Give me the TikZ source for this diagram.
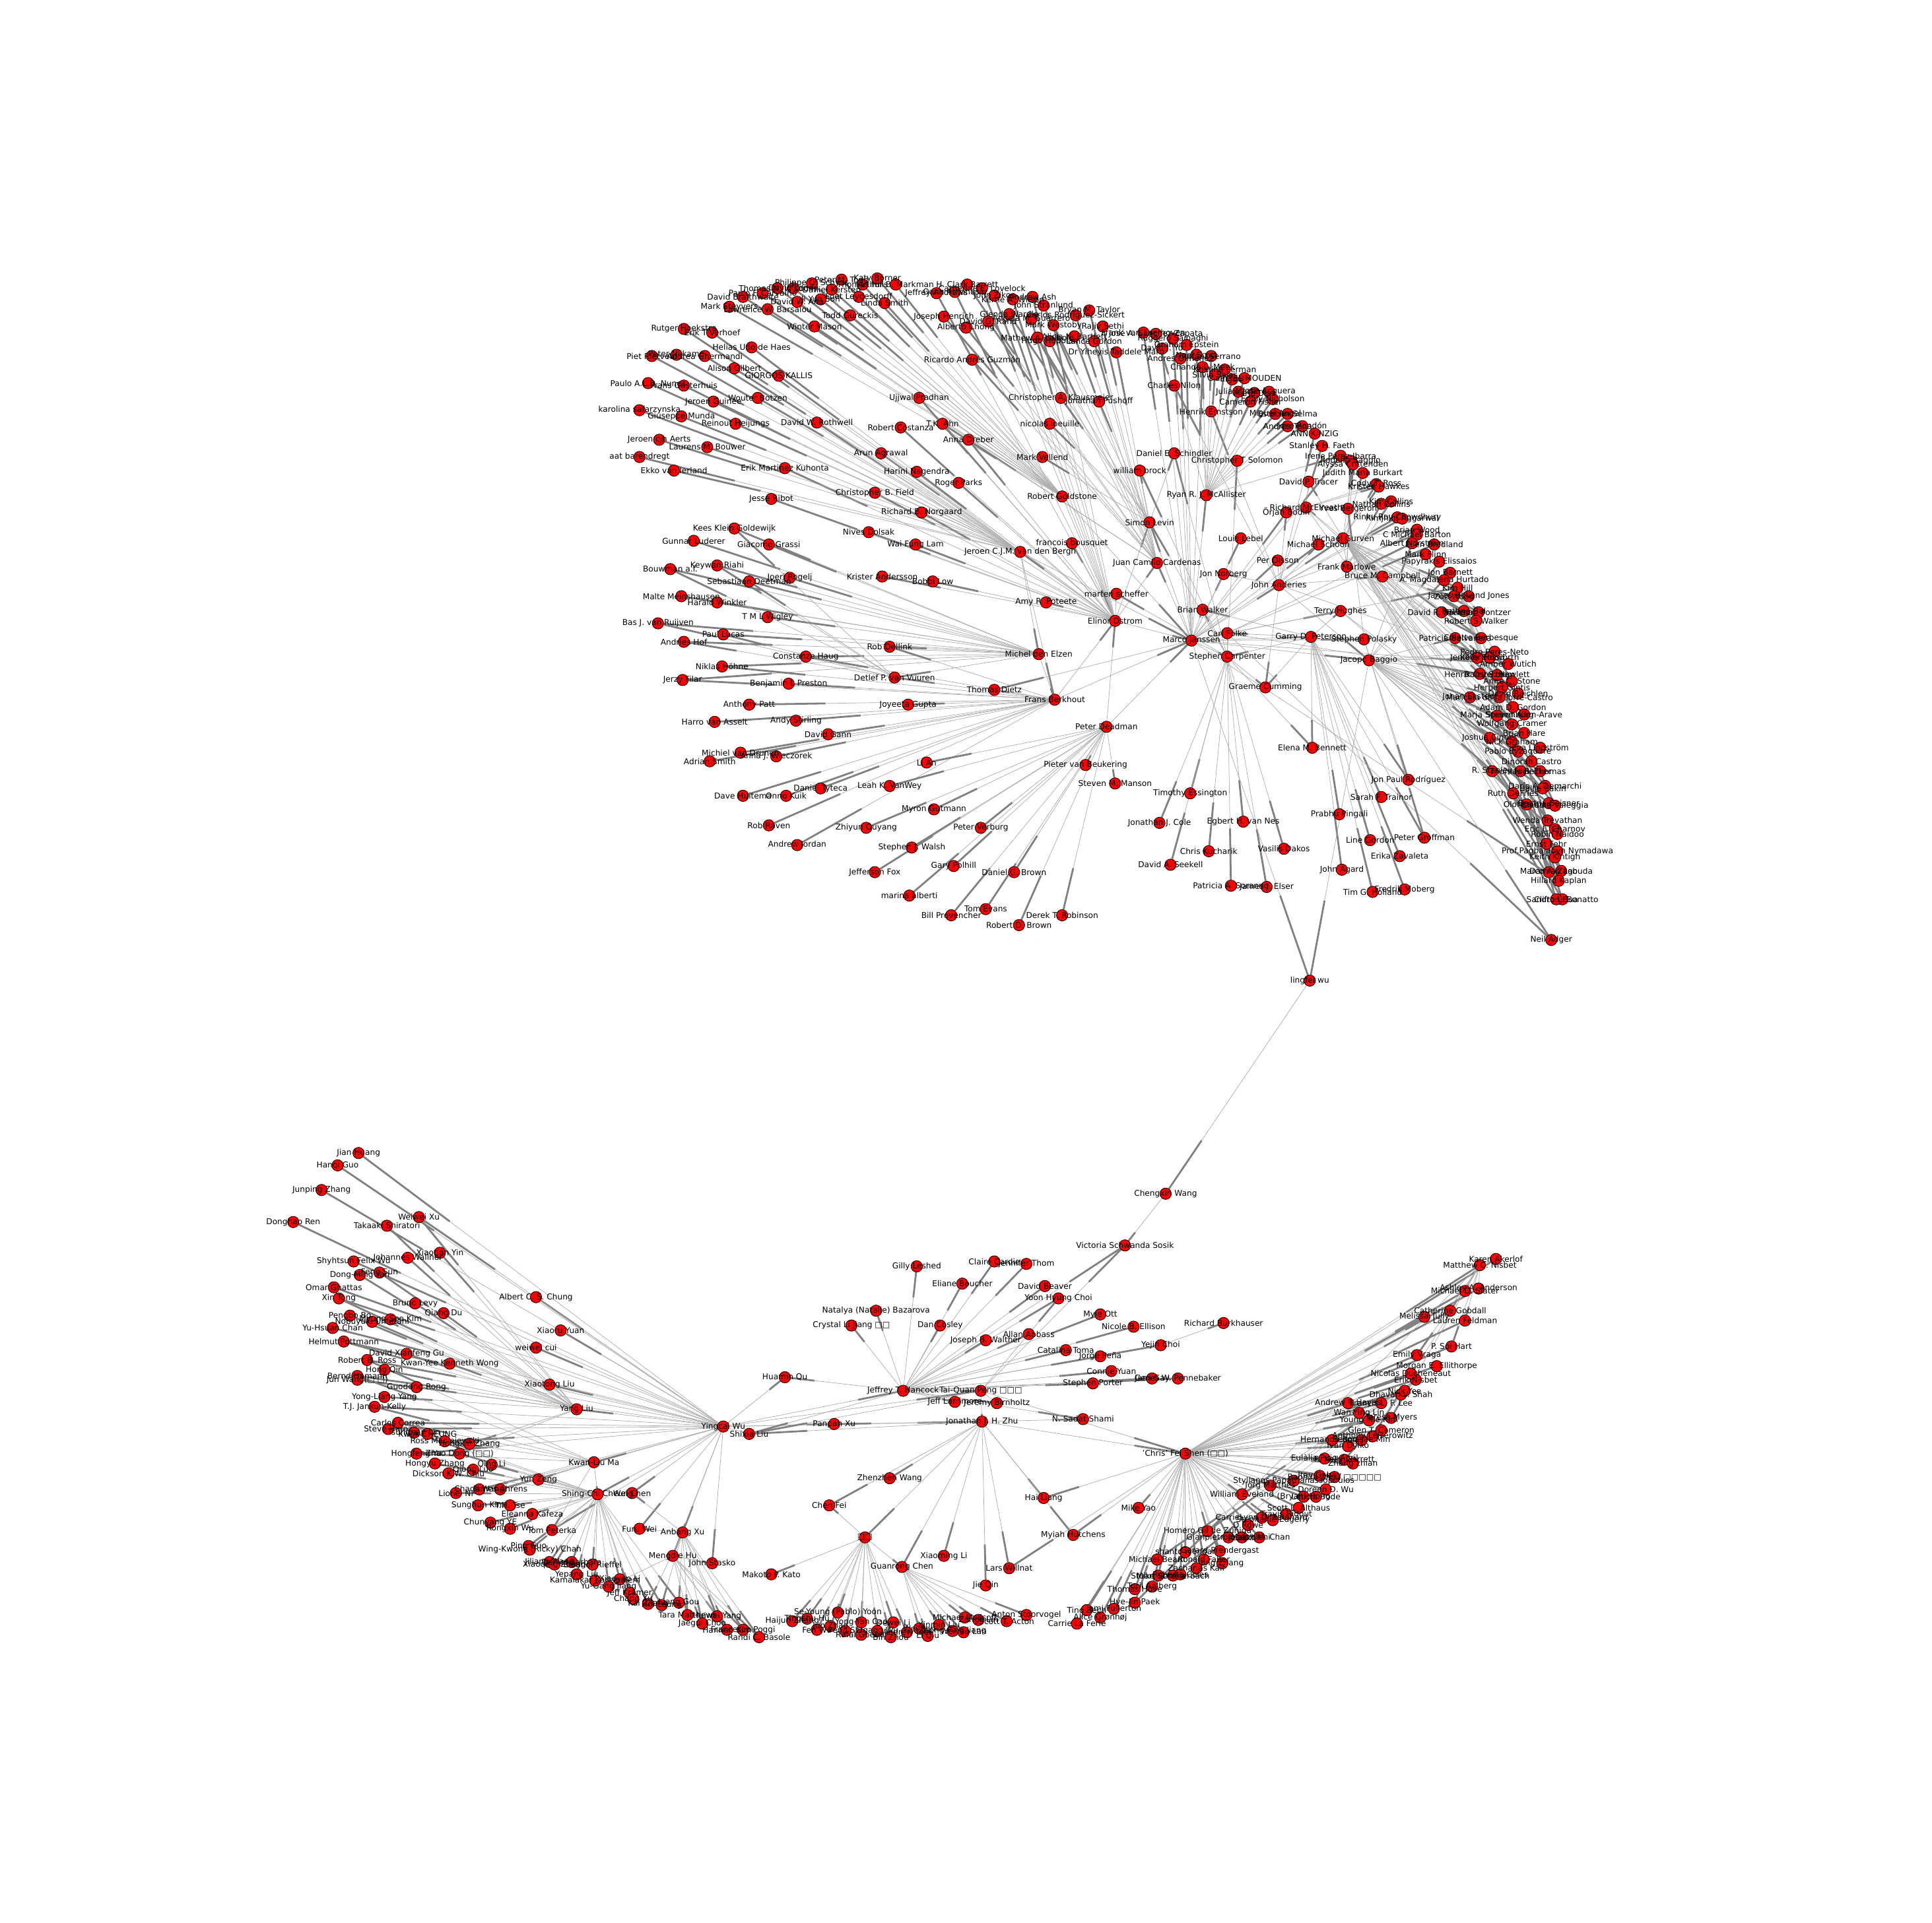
\documentclass[tikz,border=0pt]{standalone}
\usepackage{fontspec}
\setmainfont{DejaVu Sans}
\usetikzlibrary{calc}
\pgfdeclarelayer{background}
\pgfsetlayers{background,main}
\newcommand{\lnk}[2]{\draw[lnk] (#1) -- (#2); \draw[lnkhd] ($(#1)!0.75!(#2)$) -- (#2);}

\newcommand{\upperlist}{
  wisdom/631/234/Thomas N. Wisdom, carvalho/619/238/Paulo F. Carvalho, braithwaite/603/241/David Braithwaite,
  schyns/659/230/Philippe G. Schyns, landy/644/234/David Landy, todd/683/227/Peter M. Todd,
  hills/700/231/Thomas Hills, kersten/675/235/Daniel Kersten, son/666/243/Ji Yun Son,
  leydesdorff/697/241/Loet Leydesdorff, aha/647/245/David W. Aha, barsalou/623/251/Lawrence W. Barsalou,
  steyvers/592/249/Mark Steyvers, gureckis/690/256/Todd Gureckis, mason/661/265/Winter Mason,
  smithl/718/246/Linda Smith, borner/712/226/Katy Börner, markman/727/231/Arthur B. Markman,
  barrett/785/231/H. Clark Barrett, jeffrey/760/238/Jeffrey Andrews, athan/775/237/Oana Athanasiu,
  lovelock/797/234/Catherine E. Lovelock, zik/807/240/John Zikos, wilson/822/243/Kerrie A. Wilson,
  ash/838/241/Andrew Ash, stranlund/847/248/John Stranlund, henrich/766/257/Joseph Henrich,
  wardle/819/255/Glenda Wardle, randd/802/261/David G. Rand, guerrero/837/259/Angela M. Guerrero,
  sickert/873/256/Carlos Rodriguez-Sickert, taylor/884/252/Bryan M. Taylor, westoby/855/264/Mark Westoby,
  chong/784/266/Alberto Chong, sethi/895/265/Rajiv Sethi, leibold/842/274/Mathew A. Leibold,
  hugo/852/277/Hugo Hopolah, barraclough/872/273/Alicia N. Bartlett, gordonx/888/277/Lance Gordon,
  maru/906/286/Dr Yiheyis Taddele Maru, guzman/789/292/Ricardo Andrés Guzmán,
  hoekstra/555/267/Rutger Hoekstra, verhoef/578/270/Erik T Verhoef, udodehaes/610/282/Helias Udo de Haes,
  rietveld/529/289/Piet Rietveld, nijkamp/549/288/Peter Nijkamp, ghermandi/572/289/Andrea Ghermandi,
  gilbert/596/299/Alison Gilbert, kallis/632/305/GIORGOS KALLIS, nunes/526/311/Paulo A.L.D. Nunes,
  oosterhuis/555/313/Frans Oosterhuis, guinee/579/326/Jeroen Guinée, botzen/615/323/Wouter Botzen,
  safarzynska/519/333/karolina safarzynska, munda/553/338/Giuseppe Munda, heijungs/597/344/Reinout Heijungs,
  rothwell/663/343/David W. Rothwell, aerts/535/357/Jeroen cjh Aerts, bouwer/574/363/Laurens M. Bouwer,
  barendregt/519/371/aat barendregt, ierland/547/382/Ekko van Ierland, kuhonta/637/380/Erik Martinez Kuhonta,
  ribot/626/405/Jesse Ribot,
  pradhan/746/323/Ujjwal Pradhan, costanza/731/347/Robert Costanza, ahn/765/344/T.K. Ahn,
  dreber/786/357/Anna Dreber, agrawal/715/368/Arun Agrawal, nagendra/744/383/Harini Nagendra,
  parks/778/392/Roger Parks, field/710/400/Christopher B. Field, norgaard/748/416/Richard B. Norgaard,
  dolsak/705/432/Nives Dolsak, lam/743/442/Wai Fung Lam, bousquet/870/441/francois bousquet,
  bergh/828/448/Jeroen C.J.M. van den Bergh, andersson/716/468/Krister Andersson, low/757/472/Bobbi Low,
  poteete/849/489/Amy R. Poteete, scheffer/906/482/marten scheffer, ostrom/905/504/Elinor Ostrom,
  klausmeier/861/323/Christopher A. Klausmeier, bushoff/892/326/Jonathan Pushoff,
  loeuille/852/344/nicolas loeuille, vellend/846/371/Mark Vellend, goldstone/862/403/Robert Goldstone,
  goldewijk/596/429/Kees Klein Goldewijk, luderer/563/439/Gunnar Luderer, grassi/624/442/Giacomo Grassi,
  bouwman/544/462/Bouwman a.f., riahi/582/459/Keywan Riahi, rogelj/641/469/Joeri Rogelj,
  deetman/608/472/Sebastiaan Deetman, meinshausen/553/484/Malte Meinshausen, winkler/582/489/Harald Winkler,
  wigley/623/501/T M L Wigley, ruijven/534/506/Bas J. van Ruijven, lucas/587/515/Paul Lucas,
  hof/555/521/Andries Hof, dellink/722/525/Rob Dellink, elzen/843/531/Michel den Elzen,
  haug/654/533/Constanze Haug, hohne/586/541/Niklas Höhne, vuuren/726/550/Detlef P. van Vuuren,
  filar/554/552/Jerzy Filar, preston/640/555/Benjamin L Preston, dietz/807/560/Thomas Dietz,
  berkhout/856/568/Frans Berkhout, patt/608/572/Anthony Patt, gupta/737/572/Joyeeta Gupta,
  asselt/580/586/Harro van Asselt, stirling/646/585/Andy Stirling, deadman/898/590/Peter Deadman,
  gann/672/596/David Gann, drunen/601/611/Michiel van Drunen, wieczorek/630/614/Anna J. Wieczorek,
  smitha/576/618/Adrian Smith, lian/752/619/Li An, beukering/881/621/Pieter van Beukering,
  manson/905/636/Steven M. Manson, huitema/603/646/Dave Huitema, kuik/638/646/Onno Kuik,
  tyteca/666/640/Daniel Tyteca, vanwey/722/638/Leah K. VanWey, gutmann/758/657/Myron Gutmann,
  raven/624/670/Rob Raven, ouyang/703/672/Zhiyun Ouyang, verburg/796/672/Peter Verburg,
  jordan/647/686/Andrew Jordan, walsh/740/688/Stephen J. Walsh, polhill/774/703/Gary Polhill,
  fox/710/708/Jefferson Fox, browndg/823/708/Daniel G. Brown, alberti/738/727/marina alberti,
  evans/800/738/Tom Evans, provencher/772/743/Bill Provencher, robinson/862/743/Derek T. Robinson,
  brownrd/827/751/Robert D. Brown,
  cardenas/939/457/Juan Camilo Cardenas, levin/933/424/Simon Levin, lebel/1007/437/Louis Lebel,
  schoon/1070/442/Michael Schoon, gurven/1090/437/Michael Gurven, olsson/1037/455/Per Olsson,
  marlowe/1093/460/Frank Marlowe, campbell/1122/468/Bruce M. Campbell, norberg/993/466/Jon Norberg,
  anderies/1038/475/John Anderies, walker/976/495/Brian Walker, hughes/1088/496/Terry Hughes,
  folke/996/514/Carl Folke, janssen/967/520/Marco Janssen, peterson/1064/517/Garry D. Peterson,
  polasky/1107/519/Stephen Polasky, carpenter/996/533/Stephen Carpenter, baggio/1111/536/Jacopo Baggio,
  cumming/1027/558/Graeme Cumming, bennett/1065/607/Elena M. Bennett,
  schindler/953/368/Daniel E. Schindler, solomon/1004/374/Christopher T Solomon, brock/925/382/william brock,
  mcallister/979/402/Ryan R. J. McAllister, bodin/1044/416/Örjan Bodin, mcelreath/1060/412/Richard McElreath,
  bergeron/1094/413/Yves Bergeron, tracer/1062/391/David P. Tracer,
  essington/966/644/Timothy Essington, cole/941/668/Jonathan J. Cole, vannes/1009/667/Egbert H. van Nes,
  kucharik/981/691/Chris Kucharik, dakos/1042/689/Vasilis Dakos, seekell/950/702/David A. Seekell,
  soranno/999/719/Patricia A. Soranno, elser/1028/720/James J. Elser,
  pingali/1087/661/Prabhu Pingali, agard/1089/706/John Agard, gordonl/1112/682/Line Gordon,
  groffman/1156/680/Peter Groffman, trainor/1121/647/Sarah F. Trainor, rodriguez/1143/633/Jon Paul Rodríguez,
  zavaleta/1136/695/Erika Zavaleta, holland/1114/724/Tim G. Holland, moberg/1140/722/Fredrik Moberg,
  laerhoven/928/270/Frank van Laerhoven, zapata/938/271/José A. Sánchez Zapata, sainaghi/952/275/Ruggero Sainaghi,
  yu/943/283/David J. Yu, epstein/963/280/Graham Epstein, gimenez/958/291/Andres Gimenez,
  scott/971/288/Noel Scott, serrano/983/289/Rafael Serrano, meek/976/298/Chanda L. Meek,
  lerman/994/300/Kristina Lerman, silvia/986/304/Silvia Salas, joel/1000/308/El Joel,
  mouden/1010/307/Claire EL MOUDEN, nilon/953/313/Charles Nilon, julia/1005/318/Julia Martin,
  diaz/1018/319/Mario Díaz, anguera/1030/318/Jose Anguera, cameronx/1015/326/Cameron Fisher,
  nicholson/1033/324/Emily Nicholson, ernstson/983/334/Henrik Ernstson, miguel/1035/336/Miguel Angel,
  selma/1045/336/Esteban Selma, andres/1045/346/Andrés Tena, rondon/1057/346/Jose Rondón,
  kinzig/1067/352/ANN KINZIG, faeth/1073/362/Stanley H. Faeth, ibarra/1088/370/Irene Pérez-Ibarra,
  rodolfo/1096/374/Rodolfo Baggio, crittenden/1098/377/Alyssa Crittenden, burkart/1106/384/Judith Maria Burkart,
  ross/1117/393/Cody T. Ross, hawkes/1119/395/Kristen Hawkes, collins/1121/409/Nathan Collins,
  kimc/1129/407/Kim Collins, chowdhury/1134/420/Rinku Roy Chowdhury, aggarwal/1138/421/Rimjhim Aggarwal,
  wood/1150/430/Brian Wood, barton/1150/434/C Michael Barton, norstrom/1146/441/Albert Norström,
  bredland/1164/442/Ellen Bredland, flinn/1157/450/Mark Flinn, elissaios/1168/456/Papyrakis Elissaios,
  barnett/1177/465/Jon Barnett, hurtado/1172/471/A. Magdalena Hurtado, hill/1183/477/Kim Hill,
  woodz/1180/484/Zoë Wood, jones/1192/484/James Holland Jones, davidr/1170/497/David R. Samson,
  bel/1188/496/Bettina Bel, pontzer/1200/497/Herman Pontzer, walkerr/1198/504/Robert S Walker,
  patricia/1181/518/Patricia Balvanera, berbesque/1202/518/Colette Berbesque, peresneto/1213/529/Pedro Peres-Neto,
  jennifer/1199/534/Jennifer Hood, bosworth/1209/534/Kelly Bosworth, wutich/1224/539/Amber Wutich,
  osterblom/1201/547/Henrik Österblom, hewlett/1215/548/Barry S. Hewlett, stone/1227/553/Anne C. Stone,
  gintis/1219/558/Herbert Gintis, raichlen/1232/563/David Raichlen, johan/1193/566/Johan Ekstedt,
  torrecastro/1217/566/Maricela de la Torre-Castro, gordona/1228/574/Adam D. Gordon,
  spierenburg/1215/581/Marja Spierenburg, allenarave/1237/580/Steven Allen-Arave, cramer/1227/588/Wolfgang Cramer,
  hare/1237/595/Brian Hare, cinner/1209/599/Joshua Cinner, graham/1227/602/Nick Graham,
  lindstrom/1250/607/Eva Lindström, eyzaguirre/1232/610/Pablo Eyzaguirre, castro/1243/618/Dinorah Castro,
  stanley/1211/626/R. Stanley, thomas/1234/626/Thomas Becker, thomasx/1250/626/Nick Thomas,
  demarchi/1254/638/Darío A. Demarchi, eakin/1252/640/Hallie Eakin, defries/1228/644/Ruth DeFries,
  olof/1239/653/Olof Leimar, beisner/1257/652/Beatrix Beisner, valeggia/1262/654/Claudia Valeggia,
  trevathan/1256/666/Wenda Trevathan, charnov/1262/673/Eric L. Charnov, naidoo/1264/677/Robin Naidoo,
  fehr/1255/685/Ernst Fehr, nymadawa/1264/691/Prof.Pagbajabyn Nymadawa, kintigh/1262/696/Keith Kintigh,
  marco/1257/708/Marco A. Zago, labuda/1267/707/Damian Labuda, kaplan/1265/715/Hillard Kaplan,
  bonatto/1268/730/Sandro L. Bonatto, clifton/1263/730/Clifton Bua, adger/1259/763/Neil Adger,
  lingfei/1063/796/lingfei wu, chengxin/946/969/Chengxin Wang}

\newcommand{\lowerlist}{
  huang/291/936/Jian Huang, guoh/274/946/Hanqi Guo, zhangjp/261/966/Junping Zhang, ren/238/992/Donghao Ren,
  xuww/340/988/Weiwei Xu, shiratori/314/995/Takaaki Shiratori, yinx/357/1017/Xiaotian Yin,
  wallner/331/1021/Johannes Wallner, wusf/287/1024/Shyhtsun Felix Wu, sunf/308/1033/Feng Sun,
  yandm/292/1035/Dong-Ming Yan, ghattas/271/1045/Omar Ghattas, tongx/275/1054/Xin Tong,
  chung/435/1053/Albert C. S. Chung, levy/337/1058/Bruno Levy, duq/360/1066/Qiang Du,
  bop/284/1068/Pengbo Bo, kimms/317/1071/Myung-Soo Kim, umetani/302/1073/Nobuyuki Umetani,
  chanyh/270/1078/Yu-Hsuan Chan, yuanx/455/1080/Xiaoru Yuan, pottmann/279/1089/Helmut Pottmann,
  cui/435/1094/weiwei cui, gux/330/1099/David Xianfeng Gu, rossrb/298/1104/Robert B. Ross,
  wongk/365/1107/Kwan-Yee Kenneth Wong, qinh/312/1112/Hong Qin, hamann/290/1117/Bernd Hamann,
  wangj/290/1120/Jun Wang(□ □), rong/338/1126/Guodong Rong, liuxt/446/1124/Xiaotong Liu,
  yangyl/312/1134/Yong-Liang Yang, jankun/304/1142/T.J. Jankun-Kelly, liuy/468/1144/Yang Liu,
  correa/323/1155/Carlos Correa, haroz/315/1160/Steve Haroz, tsung/336/1163/Tsungnan Lin,
  cheungk/347/1164/Kwok CHEUNG, wuyc/587/1158/Yingcai Wu, liusx/608/1164/Shixia Liu,
  maciejewski/361/1170/Ross Maciejewski, zhanghx/381/1172/Hongxin Zhang, yuhf/338/1180/Hongfeng Yu,
  dongz/373/1180/Zhao Dong (□□), makl/482/1187/Kwan-Liu Ma, zhanghy/353/1188/Hongyu Zhang,
  liq/399/1189/Qing Li, luoq/384/1193/Qiong Luo, chiu/364/1196/Dickson K.W. Chiu,
  zengy/437/1201/Yun Zeng, ni/370/1212/Lionel Ni, wangcl/389/1209/Chaoli Wang, ahrens/406/1209/James Ahrens,
  cheungsc/485/1213/Shing-Chi Cheung, chenw/513/1212/Wei Chen, kimsh/388/1222/Sunghun Kim,
  tse/414/1222/T.H. Tse, kafeza/432/1229/Eleanna Kafeza, ye/398/1236/Chunyang YE,
  wurx/414/1241/Rongxin Wu, peterka/448/1242/Tom Peterka, weif/519/1241/Furu Wei, xua/554/1244/Anbang Xu,
  guop/429/1255/Ping Guo, chanwk/430/1258/Wing-Kwong (Ricky) Chan, hum/546/1263/Mengdie Hu,
  stasko/578/1269/John Stasko, jiliang/446/1268/Jiliang Wang, xiaoqing/450/1270/Xiaoqing Zhong,
  barbara/464/1268/Daniel Barbara, rieffel/481/1270/Eleanor Rieffel, liuyp/468/1278/Yepang Liu,
  karlapalem/483/1283/Kamalakar Karlapalem, lixy/503/1282/Xiaoyao Li, jiangyg/494/1288/Yu-Gang Jiang,
  kramer/511/1293/Jeff Kramer, xuc/514/1298/Chang Xu, kai/526/1302/Kai Zhang, hoi/537/1303/Hoi Leung,
  gou/551/1301/Liang Gou, matthews/558/1311/Tara Matthews, choo/570/1318/Jaegul Choo,
  yangh/582/1312/Huiwei Yang, hannah/590/1323/Hannah Kim, poggi/603/1323/Francesco Poggi,
  basole/616/1329/Randi C. Basole, kato/626/1278/Makoto P. Kato,
  sosik/913/1011/Victoria Schwanda Sosik, cardie/807/1024/Claire Cardie, thom/833/1026/Jennifer Thom,
  leshed/744/1028/Gilly Leshed, boucher/781/1042/Eliane Boucher, beaver/848/1044/David Beaver,
  choiyh/859/1054/Yoon Hyung Choi, bazarova/711/1064/Natalya (Natalie) Bazarova, ott/893/1067/Myle Ott,
  jiang/691/1076/Crystal Li Jiang □□, cosley/763/1076/Dan Cosley, burkhauser/993/1074/Richard Burkhauser,
  ellison/920/1077/Nicole B. Ellison, abbass/835/1083/Allan Abbass, walther/800/1088/Joseph B. Walther,
  choiyj/942/1092/Yejin Choi, toma/865/1096/Catalina Toma, pena/893/1101/Jorge Peña,
  yuanc/902/1113/Connie Yuan, quh/637/1118/Huamin Qu, gay/935/1119/Geri Gay,
  pennebaker/956/1119/James W. Pennebaker, porter/887/1123/Stephen Porter, hancock/733/1129/Jeffrey T. Hancock,
  peng/796/1129/Tai-Quan Peng □□□, larrimore/775/1138/Jeff Larrimore, birnholtz/809/1139/Jeremy Birnholtz,
  shami/879/1152/N. Sadat Shami, xup/677/1156/Panpan Xu, zhu/797/1154/Jonathan J. H. Zhu,
  shen/962/1180/'Chris' Fei Shen (□□), wangzz/722/1200/Zhenzhen Wang, lianghai/847/1216/Hai Liang,
  yao/924/1224/Mike Yao, chenfei/673/1222/Chen Fei, boxes/702/1248/□□, hutchens/871/1246/Myiah Hutchens,
  lixm/766/1263/Xiaoming Li, chengr/732/1272/Guanrong Chen, willnat/819/1273/Lars Willnat, qinj/800/1287/Jie Qin,
  yoon/680/1309/Se-Young (Pablo) Yoon, haijun/643/1316/Haijun Zhang, hut/655/1314/Tingshu Hu,
  jun/674/1320/Jun Zhao, wuf/663/1323/Fen Wu, cao/699/1317/Yong-Yan Cao, dewei/725/1317/Dewei Li,
  goebel/699/1327/Rafal Goebel, x685/686/1324/Peng Shi, x712/712/1324/Ligang Wu, zhoub/723/1329/Bin Zhou,
  andrew/736/1325/Andrew Teel, x746/746/1322/Wei Ren, qiu/753/1328/Li Qiu, liuxm/762/1319/Xinmin Liu,
  x773/773/1324/Zhong-Ping Jiang, lan/782/1325/Weiyao Lan, michael/783/1313/Michael Malisoff,
  zongli/794/1315/Zongli Lin, acton/817/1316/Scott T. Acton, stoorvogel/833/1311/Anton Stoorvogel,
  bech/882/1307/Tino Bech, fullerton/904/1306/Jami Fullerton, gronhoj/893/1313/Alice Grønhøj,
  laferle/874/1318/Carrie La Ferle, paek/921/1301/Hye-Jin Paek, hove/921/1290/Thomas Hove,
  aalberg/935/1288/Toril Aalberg, soroka/940/1279/Stuart Soroka, schmierbach/952/1279/Mike Schmierbach,
  x958/958/1278/Roberta Coles, zacharias/971/1273/Zacharias Kalf, faber/977/1266/Ronald Faber,
  zhangjing/992/1269/Jing Zhang, beam/939/1266/Michael Beam, iyengar/962/1260/shanto iyengar,
  prendergast/990/1259/Gerard Prendergast, zuniga/980/1243/Homero Gil de Zúñiga,
  mazzoleni/997/1248/Gianpietro Mazzoleni, x1008/1008/1248/Kazakh, chanjm/1022/1248/Joseph M. Chan,
  rowe/1013/1238/D Rowe, reinhard/1024/1232/CarrieLynn D. Reinhard, edgerly/1033/1234/Stephanie Edgerly,
  ridout/1044/1229/Travis Ridout, althaus/1054/1224/Scott L. Althaus, eveland/1008/1213/William Eveland,
  matthes/1031/1206/Jörg Matthes, bryan/1058/1215/(Bryan) Hong, bode/1068/1215/Leticia Bode,
  wud/1076/1209/Doreen D. Wu, papathan/1050/1202/Stylianos Papathanassopoulos, gabay/1071/1198/Itay Gabay,
  zhoubh/1083/1199/Baohua Zhou □□□□□, puig/1075/1184/Eulàlia Puig-Abril, garrett/1091/1185/R. Kelly Garrett,
  zhian/1098/1188/Zhang zhian, rojas/1081/1169/Hernando Rojas, dylko/1094/1174/Ivan Dylko,
  minsj/1105/1169/Seong-Jae Min, leiserowitz/1114/1166/Anthony Leiserowitz, cameron/1121/1161/Glen T. Cameron,
  myers/1129/1151/Teresa Myers, kimym/1111/1153/Young Mie Kim, linwy/1103/1147/Wan-Ying Lin,
  hayes/1094/1139/Andrew F. Hayes, leef/1121/1139/Francis L. F. Lee, shah/1137/1132/Dhavan V. Shah,
  yee/1140/1129/Nick Yee, nisbete/1149/1120/Erik Nisbet, ducheneaut/1145/1115/Nicolas Ducheneaut,
  ellithorpe/1166/1109/Morgan E. Ellithorpe, vraga/1150/1100/Emily Vraga, hart/1178/1093/P. Sol Hart,
  tully/1156/1069/Melissa Tully, feldman/1189/1072/Lauren Feldman, goodall/1177/1064/Catherine Goodall,
  slater/1189/1048/Michael D. Slater, anderson/1200/1046/Ashley A. Anderson,
  nisbetm/1201/1027/Matthew C. Nisbet, akerlof/1214/1022/Karen Akerlof}

\begin{document}
\begin{tikzpicture}[x=0.2mm, y=-0.2mm,
  pn/.style={circle, draw=black, line width=0.25pt, fill=red, minimum size=1.85mm, inner sep=0pt},
  lab/.style={font=\fontsize{3.7}{4.4}\selectfont, inner sep=0pt},
  lnk/.style={draw=black!32, line width=0.22pt},
  lnkhd/.style={draw=black!50, line width=0.85pt}
]
\useasboundingbox (0,0) rectangle (1568,1561);

\foreach \n/\x/\y/\lab in \upperlist {\node[pn] (\n) at (\x,\y) {};}
\foreach \n/\x/\y/\lab in \lowerlist {\node[pn] (\n) at (\x,\y) {};}
\foreach \n/\x/\y/\lab in \upperlist {\node[lab] (\n-l) at (\x,\y) {\lab};}
\foreach \n/\x/\y/\lab in \lowerlist {\node[lab] (\n-l) at (\x,\y) {\lab};}

\begin{pgfonlayer}{background}
\fill[white] (0,0) rectangle (1568,1561);
\foreach \t in {wisdom,carvalho,braithwaite,schyns,landy,todd,hills,kersten,son,leydesdorff,aha,barsalou,steyvers,gureckis,mason,smithl,borner,markman,janssen,ostrom} {\lnk{goldstone}{\t}}
\foreach \t in {pradhan,costanza,ahn,dreber,agrawal,nagendra,parks,field,norgaard,dolsak,lam,andersson,low,poteete,ribot,rothwell,kuhonta,bousquet,scheffer,cardenas,janssen,levin,bergh,lovelock,wilson,ash,wardle,westoby,guerrero,jeffrey,athan,zik} {\lnk{ostrom}{\t}}
\foreach \t in {henrich,chong,guzman,barrett,randd,sickert,taylor,sethi,leibold,maru,stranlund,hugo,barraclough,gordonx,dreber,ahn} {\lnk{cardenas}{\t}}
\foreach \t in {klausmeier,bushoff,loeuille,vellend,brock,schindler,wardle,westoby,leibold} {\lnk{levin}{\t}}
\foreach \t in {hoekstra,verhoef,udodehaes,rietveld,nijkamp,ghermandi,gilbert,kallis,nunes,oosterhuis,guinee,botzen,safarzynska,munda,heijungs,aerts,bouwer,barendregt,ierland,berkhout,elzen,janssen} {\lnk{bergh}{\t}}
\foreach \t in {goldewijk,luderer,grassi,bouwman,riahi,rogelj,deetman,meinshausen,winkler,wigley,ruijven,lucas,hof,dellink,haug,hohne,filar,vuuren,berkhout} {\lnk{elzen}{\t}}
\foreach \t in {goldewijk,bouwman,deetman,ruijven,lucas,hof,riahi} {\lnk{vuuren}{\t}}
\foreach \t in {preston,patt,asselt,stirling,gann,drunen,wieczorek,smitha,huitema,kuik,tyteca,raven,jordan,gupta,dietz,haug,hohne,filar,dellink,vuuren,ostrom,janssen} {\lnk{berkhout}{\t}}
\foreach \t in {lian,vanwey,ouyang,gutmann,verburg,walsh,fox,polhill,browndg,alberti,evans,provencher,robinson,brownrd,manson,beukering,janssen,ostrom} {\lnk{deadman}{\t}}
\foreach \t in {essington,cole,vannes,kucharik,dakos,seekell,soranno,elser,cumming,schindler,solomon,brock,bennett,scheffer,folke,walker,levin} {\lnk{carpenter}{\t}}
\foreach \t in {pingali,agard,gordonl,groffman,trainor,rodriguez,zavaleta,holland,moberg,bennett,cumming,carpenter,folke,walker,hughes} {\lnk{peterson}{\t}}
\foreach \t in {anderies,folke,carpenter,walker,norberg,olsson,lebel,mcallister,levin,cardenas,baggio,polasky,peterson,hughes,schoon,bodin,laerhoven,yu,epstein,meek,gimenez,sainaghi,ibarra,wutich,hill,kaplan,gurven,lingfei,dietz} {\lnk{janssen}{\t}}
\foreach \t in {kinzig,faeth,ernstson,nilon,wutich,aggarwal,barton,chowdhury,bodin,schoon,baggio,campbell,norberg,olsson,cumming} {\lnk{anderies}{\t}}
\foreach \t in {zapata,scott,serrano,silvia,joel,julia,diaz,anguera,cameronx,nicholson,miguel,selma,andres,rondon,lerman,meek,mouden,ibarra} {\lnk{mcallister}{\t}}
\foreach \t in {hill,hurtado,kaplan,trevathan,charnov,valeggia,crittenden,burkart,tracer,mcelreath,marlowe,wood,ross,hawkes,hewlett,stone,gintis,raichlen,gordona,allenarave,hare,castro,demarchi,fehr,nymadawa,kintigh,labuda,bonatto,clifton,pontzer,walkerr,jones,berbesque,davidr,bel} {\lnk{gurven}{\t}}
\foreach \t in {hurtado,kaplan,jones,walkerr,pontzer,trevathan,stone,gordona,valeggia,marco,labuda,bonatto,clifton,olof} {\lnk{hill}{\t}}
\foreach \t in {peresneto,osterblom,torrecastro,spierenburg,cramer,cinner,graham,lindstrom,eyzaguirre,stanley,thomas,thomasx,defries,eakin,naidoo,bosworth,jennifer,patricia,johan,elissaios,norstrom,barnett,beisner,adger,lingfei} {\lnk{baggio}{\t}}
\foreach \t in {wood,crittenden,berbesque,hare,flinn,kimc,collins,woodz,rodolfo} {\lnk{marlowe}{\t}}
\foreach \t in {adger,osterblom,norstrom,bredland} {\lnk{folke}{\t}}
\foreach \t in {tracer,ross,hawkes,fehr,gintis} {\lnk{mcelreath}{\t}}
\foreach \t in {cinner,graham} {\lnk{hughes}{\t}}
\foreach \t in {bergeron,rodriguez,groffman} {\lnk{polasky}{\t}}
\lnk{lingfei}{chengxin}
\lnk{chengxin}{sosik}
\foreach \t in {huang,guoh,zhangjp,ren,wusf,ghattas,chanyh,rossrb,hamann,jankun,correa,haroz,maciejewski,yuhf,peterka,wangcl,ahrens,yuanx,cui,liuxt,chung,liuy,makl,cheungsc,chenw,weif,xua,hum,stasko,liusx,xup,quh,hancock,zhu,peng,tongx,pottmann,xuww} {\lnk{wuyc}{\t}}
\foreach \t in {shiratori,xuww,yinx,wallner,sunf,yandm,tongx,levy,duq,bop,kimms,umetani,pottmann,gux,wongk,qinh,wangj,rong,yangyl,zhanghx,dongz} {\lnk{liuy}{\t}}
\foreach \t in {peterka,ahrens,wangcl,yuhf,maciejewski,correa,jankun,rossrb,hamann,cheungsc,zengy} {\lnk{makl}{\t}}
\foreach \t in {kimsh,tse,kafeza,ye,wurx,chanwk,ni,liq,luoq,chiu,zhanghy,tsung,cheungk,guop,jiliang,xiaoqing,barbara,rieffel,liuyp,karlapalem,lixy,jiangyg,kramer,xuc,kai,hoi,gou,zengy,dongz} {\lnk{cheungsc}{\t}}
\foreach \t in {matthews,choo,yangh,hannah,poggi,basole,hum,chenw,weif,kai,hoi,gou} {\lnk{xua}{\t}}
\foreach \t in {stasko,matthews,choo,yangh,hannah,poggi,basole,jiangyg} {\lnk{hum}{\t}}
\foreach \t in {leshed,cardie,thom,boucher,beaver,choiyh,bazarova,jiang,cosley,walther,abbass,ott,ellison,choiyj,toma,pena,yuanc,gay,pennebaker,porter,larrimore,birnholtz,shami,sosik,peng,quh,liusx} {\lnk{hancock}{\t}}
\lnk{choiyj}{burkhauser}
\foreach \t in {zhu,shen,liusx,birnholtz,sosik,choiyh} {\lnk{peng}{\t}}
\foreach \t in {wangzz,lianghai,boxes,lixm,chengr,willnat,qinj,shen,xup,liusx,shami,hutchens,chenfei} {\lnk{zhu}{\t}}
\foreach \t in {chenfei,chengr,kato,yoon,haijun,hut,jun,wuf,cao,goebel,x685,x712,dewei,zhoub,andrew} {\lnk{boxes}{\t}}
\foreach \t in {michael,zongli,lan,liuxm,qiu,x746,x773,stoorvogel,acton} {\lnk{chengr}{\t}}
\foreach \t in {zuniga,mazzoleni,rowe,reinhard,edgerly,ridout,althaus,eveland,matthes,bode,wud,papathan,gabay,zhoubh,puig,garrett,zhian,rojas,dylko,minsj,leiserowitz,cameron,myers,kimym,linwy,hayes,leef,shah,yee,nisbete,ducheneaut,ellithorpe,vraga,hart,tully,feldman,goodall,slater,anderson,nisbetm,akerlof,yao,hutchens,lianghai,willnat,beam,iyengar,prendergast,faber,zhangjing,soroka,schmierbach,aalberg,hove,paek,fullerton,gronhoj,laferle,bech,zacharias,x958,x1008,chanjm,bryan} {\lnk{shen}{\t}}
\foreach \t in {akerlof,anderson,slater,goodall,feldman,hart,vraga,leiserowitz,myers,paek} {\lnk{nisbetm}{\t}}
\foreach \t in {shah,yee,zuniga,rojas,eveland,garrett,beam,schmierbach} {\lnk{nisbete}{\t}}
\end{pgfonlayer}
\end{tikzpicture}
\end{document}
